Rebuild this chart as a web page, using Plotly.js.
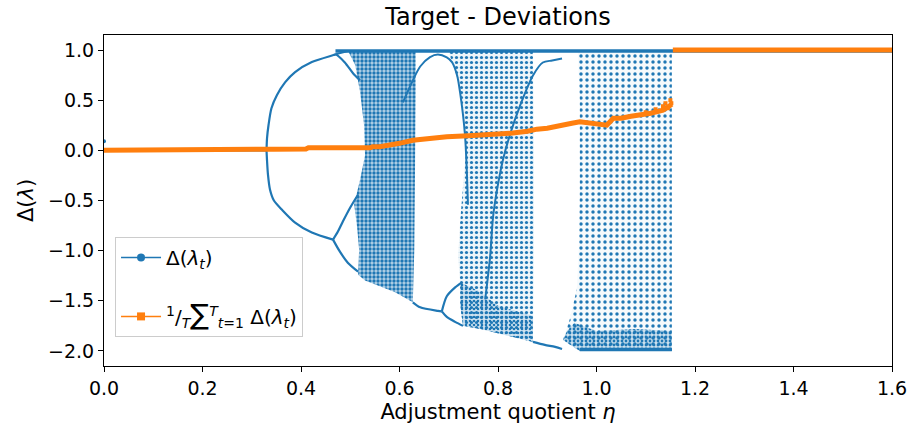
<!DOCTYPE html>
<html>
<head>
<meta charset="utf-8">
<script src="https://cdn.plot.ly/plotly-3.0.1.min.js"></script>
<style>html,body{margin:0;padding:0;background:#fff;}#chart{width:910px;height:426px;}</style>
</head>
<body>
<div id="chart"></div>
<script>
// ---------------- DATA ----------------
// Fixed point branch (Delta = 0) and the initial transient point
const fixedEta   = [0.0, 0.33];
const fixedDelta = [0.0, 0.0];
const startEta   = [0.0];
const startDelta = [0.09];

// Period-2 branches
const p2UpperEta   = [0.330, 0.331, 0.334, 0.340, 0.351, 0.368, 0.388, 0.422, 0.466, 0.495];
const p2UpperDelta = [0.00, 0.12, 0.25, 0.42, 0.55, 0.68, 0.78, 0.88, 0.95, 0.99];
const p2LowerEta   = [0.330, 0.331, 0.333, 0.337, 0.345, 0.361, 0.388, 0.422, 0.465];
const p2LowerDelta = [0.00, -0.10, -0.245, -0.39, -0.50, -0.59, -0.72, -0.82, -0.89];

// Period-4 branches
const p4TopEta     = [0.466, 0.471, 0.489, 0.506, 0.520];
const p4TopDelta   = [0.95, 0.955, 0.876, 0.767, 0.70];
const p4LowUpEta   = [0.465, 0.475, 0.485, 0.500, 0.516];
const p4LowUpDelta = [-0.89, -0.81, -0.71, -0.57, -0.44];
const p4LowDnEta   = [0.465, 0.479, 0.495, 0.516];
const p4LowDnDelta = [-0.89, -1.01, -1.12, -1.21];

// Upper edge (Delta ~ 1) and lower edge (Delta ~ -2) rows
const topRowEta      = [0.47, 1.6];
const topRowDelta    = [0.99, 0.99];
const bottomRowEta   = [0.966, 1.153];
const bottomRowDelta = [-1.985, -1.985];

// Window 1: arch near the top and loop at the bottom
const archEta   = [0.607, 0.627, 0.642, 0.662, 0.678, 0.696, 0.707, 0.717, 0.723, 0.733, 0.739];
const archDelta = [0.479, 0.697, 0.836, 0.930, 0.955, 0.926, 0.876, 0.747, 0.578, 0.152, -0.543];
const w1StemEta     = [0.627, 0.642, 0.678, 0.686];
const w1StemDelta   = [-1.515, -1.565, -1.60, -1.605];
const w1LoopUpEta   = [0.686, 0.696, 0.713, 0.727];
const w1LoopUpDelta = [-1.605, -1.455, -1.366, -1.316];
const w1LoopDnEta   = [0.686, 0.696, 0.713, 0.729];
const w1LoopDnDelta = [-1.605, -1.66, -1.71, -1.75];

// Diagonal branch crossing chaotic band B into window 2
const diagEta   = [0.774, 0.784, 0.790, 0.798, 0.810, 0.824, 0.845, 0.871, 0.891, 0.910, 0.930];
const diagDelta = [-1.485, -1.059, -0.662, -0.394, -0.096, 0.152, 0.449, 0.747, 0.876, 0.896, 0.916];

// Window 2 bottom branch
const w2BottomEta   = [0.871, 0.895, 0.916, 0.930];
const w2BottomDelta = [-1.91, -1.94, -1.96, -1.98];

// Chaotic bands (outlines of the scattered regions)
const bandAEta   = [0.495, 0.633, 0.633, 0.632, 0.630, 0.627, 0.591, 0.560, 0.530, 0.516, 0.518, 0.514, 0.508, 0.520, 0.530, 0.528, 0.520, 0.510, 0.495];
const bandADelta = [0.995, 0.995, 0.60, 0.0, -1.0, -1.515, -1.415, -1.356, -1.297, -1.24, -0.99, -0.77, -0.54, -0.29, -0.05, 0.25, 0.58, 0.85, 0.995];
const bandBEta   = [0.699, 0.871, 0.873, 0.873, 0.871, 0.830, 0.764, 0.729, 0.723, 0.723, 0.719, 0.723, 0.729, 0.735, 0.729, 0.719, 0.707, 0.699];
const bandBDelta = [0.995, 0.995, 0.0, -1.0, -1.91, -1.86, -1.78, -1.75, -1.53, -1.316, -1.06, -0.72, -0.39, 0.0, 0.40, 0.70, 0.876, 0.995];
const bandBLowEta   = [0.723, 0.760, 0.800, 0.871, 0.871, 0.830, 0.764, 0.729, 0.723];
const bandBLowDelta = [-1.316, -1.40, -1.55, -1.65, -1.91, -1.86, -1.78, -1.75, -1.53];
const bandCEta   = [0.932, 0.946, 0.960, 0.964, 0.966, 0.966, 0.962, 1.153, 1.153, 0.966, 0.932];
const bandCDelta = [-1.89, -1.68, -1.386, -0.989, -0.394, 0.499, 0.995, 0.995, -2.0, -2.0, -1.89];
const bandCLowEta   = [0.940, 0.955, 1.000, 1.080, 1.153, 1.153, 0.966, 0.932];
const bandCLowDelta = [-1.80, -1.72, -1.80, -1.78, -1.80, -2.0, -2.0, -1.89];

// Time average of the deviations
const meanEta   = [0.0, 0.33, 0.345, 0.41, 0.415, 0.54, 0.545, 0.56, 0.58, 0.60, 0.627, 0.66, 0.696, 0.74, 0.763, 0.78, 0.81, 0.83, 0.86, 0.879, 0.90, 0.92, 0.932, 0.95, 0.966, 0.99, 1.01, 1.021, 1.034, 1.05, 1.07, 1.088, 1.11, 1.135, 1.145, 1.153, null, 1.155, 1.6];
const meanDelta = [0.0, 0.0, 0.012, 0.014, 0.026, 0.026, 0.035, 0.036, 0.05, 0.07, 0.10, 0.12, 0.135, 0.145, 0.152, 0.155, 0.16, 0.172, 0.19, 0.211, 0.22, 0.235, 0.251, 0.27, 0.284, 0.27, 0.255, 0.251, 0.32, 0.32, 0.34, 0.35, 0.37, 0.40, 0.43, 0.46, null, 1.0, 1.0];
const meanNoiseEta   = [1.10, 1.12, 1.135, 1.14, 1.145, 1.15, 1.152];
const meanNoiseDelta = [0.38, 0.41, 0.44, 0.47, 0.42, 0.50, 0.47];

// Legend labels
const legendDelta = 'Δ(<i>λ</i><sub><i>t</i></sub>)';
const legendMean  = '<sup>1</sup>/<sub><i>T</i></sub><span style="font-size:28px">∑</span><sup><i>T</i></sup><sub><i>t</i>=1</sub> Δ(<i>λ</i><sub><i>t</i></sub>)';

// ---------------- STYLES ----------------
const BLUE = '#1f77b4';
const ORANGE = '#ff7f0e';
const FONT = 'DejaVu Sans, sans-serif';

function branch(x, y, w) {
  return {x: x, y: y, type: 'scatter', mode: 'lines', showlegend: false, hoverinfo: 'skip',
          line: {color: BLUE, width: w || 2.2, shape: 'spline', smoothing: 0.8}};
}
function band(x, y, size, sol, bg) {
  return {x: x, y: y, type: 'scatter', mode: 'lines', fill: 'toself', showlegend: false, hoverinfo: 'skip',
          line: {width: 0, color: 'rgba(0,0,0,0)'},
          fillcolor: bg,
          fillpattern: {shape: '.', fgcolor: BLUE, fgopacity: 1, bgcolor: bg, size: size, solidity: sol}};
}

const traces = [
  // legend entries
  {x: [null], y: [null], type: 'scatter', mode: 'lines+markers', name: legendDelta,
   line: {color: BLUE, width: 1.5}, marker: {color: BLUE, size: 8, symbol: 'circle'}, legendgroup: 'a'},
  {x: [null], y: [null], type: 'scatter', mode: 'lines+markers', name: legendMean,
   line: {color: ORANGE, width: 1.5}, marker: {color: ORANGE, size: 8, symbol: 'square'}, legendgroup: 'b'},

  band(bandAEta, bandADelta, 4, 0.55, 'rgba(31,119,180,0.32)'),
  band(bandBEta, bandBDelta, 5, 0.32, 'rgba(31,119,180,0.08)'),
  band(bandBLowEta, bandBLowDelta, 4, 0.35, 'rgba(31,119,180,0.15)'),
  band(bandCEta, bandCDelta, 6, 0.26, 'rgba(31,119,180,0.04)'),
  band(bandCLowEta, bandCLowDelta, 4, 0.4, 'rgba(31,119,180,0.2)'),

  branch(fixedEta, fixedDelta),
  branch(p2UpperEta, p2UpperDelta),
  branch(p2LowerEta, p2LowerDelta),
  branch(p4TopEta, p4TopDelta),
  branch(p4LowUpEta, p4LowUpDelta),
  branch(p4LowDnEta, p4LowDnDelta),
  branch(topRowEta, topRowDelta, 3.5),
  branch(bottomRowEta, bottomRowDelta, 3.5),
  branch(archEta, archDelta, 2),
  branch(w1StemEta, w1StemDelta),
  branch(w1LoopUpEta, w1LoopUpDelta),
  branch(w1LoopDnEta, w1LoopDnDelta),
  branch(diagEta, diagDelta, 2),
  branch(w2BottomEta, w2BottomDelta),
  {x: startEta, y: startDelta, type: 'scatter', mode: 'markers', showlegend: false, hoverinfo: 'skip',
   marker: {color: BLUE, size: 4}},

  {x: meanEta, y: meanDelta, type: 'scatter', mode: 'lines', showlegend: false, hoverinfo: 'skip',
   line: {color: ORANGE, width: 5}, connectgaps: false},
  {x: meanNoiseEta, y: meanNoiseDelta, type: 'scatter', mode: 'markers', showlegend: false, hoverinfo: 'skip',
   marker: {color: ORANGE, size: 4, symbol: 'square'}}
];

const layout = {
  width: 910, height: 426,
  margin: {l: 104, r: 18, t: 35, b: 60},
  paper_bgcolor: '#fff', plot_bgcolor: '#fff',
  font: {family: FONT, color: '#000'},
  title: {text: 'Target - Deviations', font: {family: FONT, size: 24, color: '#000'},
          xref: 'paper', x: 0.5, xanchor: 'center', yref: 'container', y: 0.962, yanchor: 'middle'},
  xaxis: {range: [0, 1.6], dtick: 0.2, tick0: 0, tickformat: '.1f',
          showgrid: false, zeroline: false, showline: true, mirror: true, linecolor: '#000', linewidth: 1,
          ticks: 'outside', ticklen: 5, tickcolor: '#000', tickfont: {family: FONT, size: 19, color: '#000'},
          title: {text: 'Adjustment quotient <i>η</i>', font: {family: FONT, size: 21, color: '#000'}, standoff: 6}},
  yaxis: {range: [-2.15, 1.15], dtick: 0.5, tick0: 0, tickformat: '.1f',
          showgrid: false, zeroline: false, showline: true, mirror: true, linecolor: '#000', linewidth: 1,
          ticks: 'outside', ticklen: 5, tickcolor: '#000', tickfont: {family: FONT, size: 19, color: '#000'},
          title: {text: 'Δ(<i>λ</i>)', font: {family: FONT, size: 21, color: '#000'}, standoff: 8}},
  legend: {x: 0.014, y: 0.39, xanchor: 'left', yanchor: 'top',
           bgcolor: 'rgba(255,255,255,0.85)', bordercolor: '#cccccc', borderwidth: 1,
           font: {family: FONT, size: 20, color: '#000'}, tracegroupgap: 30, itemwidth: 40},
  showlegend: true
};

Plotly.newPlot('chart', traces, layout, {staticPlot: true, displayModeBar: false});
</script>
</body>
</html>
